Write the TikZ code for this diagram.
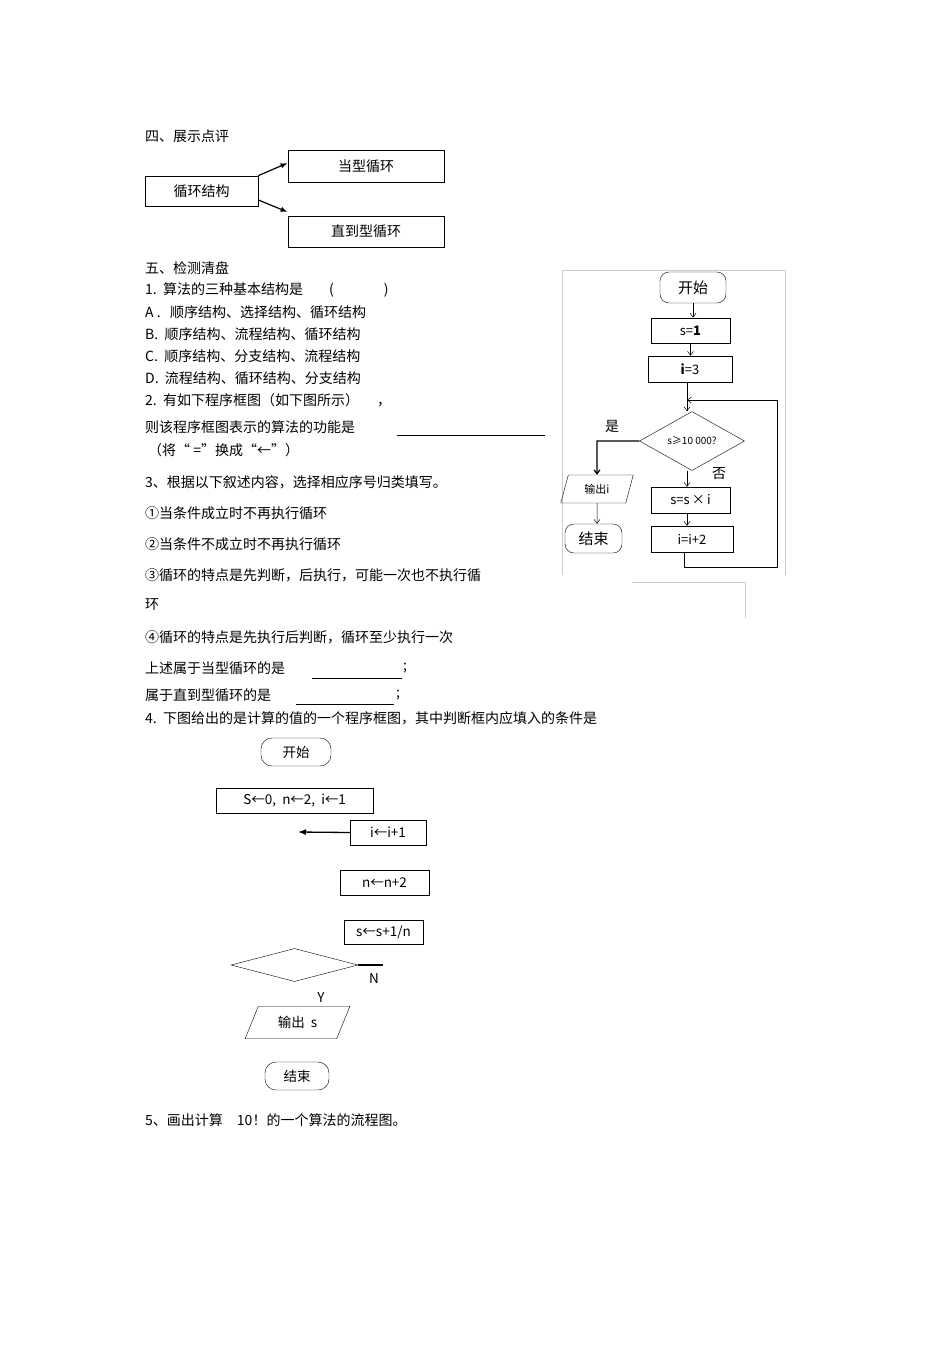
\documentclass[tikz,border=0pt]{standalone}
\usepackage{fontspec}
\setmainfont{Noto Sans CJK SC}
\newfontfamily\lat{Liberation Sans}
\usetikzlibrary{arrows.meta,shapes.geometric}
\begin{document}
\begin{tikzpicture}[x=1pt,y=-1pt,
 txt/.style={anchor=west,inner sep=0,font=\fontsize{14}{15}\selectfont},
 bx/.style={draw,line width=0.8pt,font=\fontsize{14}{15}\selectfont},
 ar/.style={-{Straight Barb[length=4pt,width=6pt]},line width=0.5pt},
 fr/.style={draw=gray!40,line width=0.6pt}]
\useasboundingbox (0,0) rectangle (950,1345);
% section 4
\node[txt] (t4) at (145,136) {四、展示点评};
\node[bx,minimum width=113,minimum height=30] (xh) at (201.5,191) {循环结构};
\node[bx,minimum width=156,minimum height=32] (dx) at (366,166) {当型循环};
\node[bx,minimum width=156,minimum height=31] (zd) at (366,231.5) {直到型循环};
\draw[-{Latex[length=7pt]},line width=1.2pt] (xh.north east) -- (dx.west|-0,163);
\draw[-{Latex[length=7pt]},line width=1.2pt] (xh.east|-0,200) -- (zd.west|-0,212);
% text
\node[txt] (t5) at (145,268) {五、检测清盘};
\node[txt] (q1) at (145,290) {1.\ \ 算法的三种基本结构是\hspace{26pt}(\hspace{50pt})};
\node[txt] (qa) at (145,312) {A .\ \ \ 顺序结构、选择结构、循环结构};
\node[txt] (qb) at (145,334) {B.\ \ 顺序结构、流程结构、循环结构};
\node[txt] (qc) at (145,356) {C.\ \ 顺序结构、分支结构、流程结构};
\node[txt] (qd) at (145,378) {D.\ \ 流程结构、循环结构、分支结构};
\node[txt] (q2) at (145,400) {2.\ \ 有如下程序框图（如下图所示）\hspace{18pt}，};
\node[txt] (q2b) at (145,427) {则该程序框图表示的算法的功能是};
\coordinate (l1a) at (397,435); \coordinate (l1b) at (545,435);
\draw[line width=0.5pt] (l1a) -- (l1b);
\node[txt] (q2c) at (148,450) {（将“ =”换成“←”）};
\node[txt] (q3) at (145,482) {3、根据以下叙述内容，选择相应序号归类填写。};
\node[txt] (o1) at (145,513) {①当条件成立时不再执行循环};
\node[txt] (o2) at (145,544) {②当条件不成立时不再执行循环};
\node[txt] (o3) at (145,575) {③循环的特点是先判断，后执行，可能一次也不执行循};
\node[txt] (o3b) at (145,605) {环};
\node[txt] (o4) at (145,637) {④循环的特点是先执行后判断，循环至少执行一次};
\node[txt] (s1) at (145,668) {上述属于当型循环的是};
\coordinate (l2a) at (312,678); \coordinate (l2b) at (402,678);
\draw[line width=0.5pt] (l2a) -- (l2b);
\node[txt] (s1e) at (403,668) {;};
\node[txt] (s2) at (145,695) {属于直到型循环的是};
\coordinate (l3a) at (296,704); \coordinate (l3b) at (394,704);
\draw[line width=0.5pt] (l3a) -- (l3b);
\node[txt] (s2e) at (396,695) {;};
\node[txt] (q4) at (145,718) {4.\ \ 下图给出的是计算的值的一个程序框图，其中判断框内应填入的条件是};
\node[txt] (q5) at (145,1120) {5、画出计算\hspace{14pt}10！的一个算法的流程图。};
% right flowchart frame
\draw[fr] (562,575) -- (562,270) -- (785,270) -- (785,575);
\draw[fr] (632,582) -- (745,582) -- (745,618);
\begin{scope}[every node/.style={font=\fontsize{11}{12}\selectfont}]
\node[draw,rounded corners=9pt,minimum width=66,minimum height=31,font=\fontsize{15}{15}\selectfont] (ks) at (693,287.5) {开始};
\node[draw,line width=0.9pt,minimum width=79,minimum height=25,font=\fontsize{13}{13}\selectfont] (s1b) at (690.5,330.5) {s=\textbf{1}};
\node[draw,minimum width=84,minimum height=26,font=\fontsize{13}{13}\selectfont] (i3) at (690,369) {\textbf{i}=3};
\node[draw,diamond,aspect=1.8,minimum width=105,minimum height=59,inner sep=0,font=\fontsize{10}{10}\selectfont] (dm) at (692,441) {s≥10 000?};
\node[font=\fontsize{14}{14}\selectfont] (shi) at (612,426) {是};
\node[font=\fontsize{14}{14}\selectfont] (fou) at (719,474) {否};
\node[draw,trapezium,trapezium left angle=75,trapezium right angle=105,minimum width=60,minimum height=28,inner sep=2pt,font=\fontsize{11}{11}\selectfont] (sc) at (597,489) {输出i};
\node[draw,rounded corners=9pt,minimum width=57,minimum height=29,font=\fontsize{15}{15}\selectfont] (js) at (593.5,538.5) {结束};
\node[draw,minimum width=79,minimum height=26,font=\fontsize{13}{13}\selectfont] (ssi) at (690.5,500) {s=s\,×\,i};
\node[draw,minimum width=82,minimum height=26,font=\fontsize{13}{13}\selectfont] (ii2) at (692,539) {i=i+2};
\end{scope}
\draw[ar] (ks) -- (ks|-s1b.north);
\draw[ar] (s1b) -- (s1b|-i3.north);
\draw[ar] (i3.south-|687,0) -- (dm.north-|687,0);
\draw[ar] (dm.south-|687,0) -- (ssi.north-|687,0);
\draw[ar] (ssi.south-|687,0) -- (ii2.north-|687,0);
\draw[ar,line width=1.2pt] (dm.west) -- (597,441) -- (sc.north);
\draw[ar] (sc) -- (sc|-js.north);
\coordinate (lp) at (687,400);
\draw[ar] (ii2.south-|684,0) -- (684,567) -- (777,567) -- (777,400) -- (lp);
% bottom flowchart
\begin{scope}[every node/.style={font=\fontsize{13.5}{14}\selectfont}]
\node[draw,rounded corners=11pt,minimum width=70,minimum height=28] (bk) at (296,752) {开始};
\node[draw,minimum width=157,minimum height=25,anchor=west,inner sep=0] (ini) at (216,800.5) {S←0,\ \ n←2,\ \ i←1};
\node[draw,minimum width=76,minimum height=25] (ii1) at (388,832.5) {i←i+1};
\node[draw,minimum width=89,minimum height=25] (nn2) at (384.5,882.5) {n←n+2};
\node[draw,minimum width=79,minimum height=24] (ssn) at (383.5,932) {s←s+1/n};
\node[draw,diamond,aspect=3.8,minimum width=127,minimum height=33,inner sep=0] (bd) at (294.5,965) {};
\node (nl) at (374,979) {N};
\node (yl) at (321,998) {Y};
\node[draw,trapezium,trapezium left angle=68,trapezium right angle=112,minimum width=105,minimum height=29] (bo) at (297.5,1022.5) {输出\ \ s};
\node[draw,rounded corners=11pt,minimum width=64,minimum height=28] (bj) at (297,1076) {结束};
\end{scope}
\coordinate (af) at (298,832);
\draw[-{Latex[length=8pt,width=6pt]},line width=1.3pt] (ii1.west) -- (af);
\coordinate (ne) at (383,965);
\draw[line width=1.3pt] (bd.east) -- (ne);
\end{tikzpicture}
\end{document}
